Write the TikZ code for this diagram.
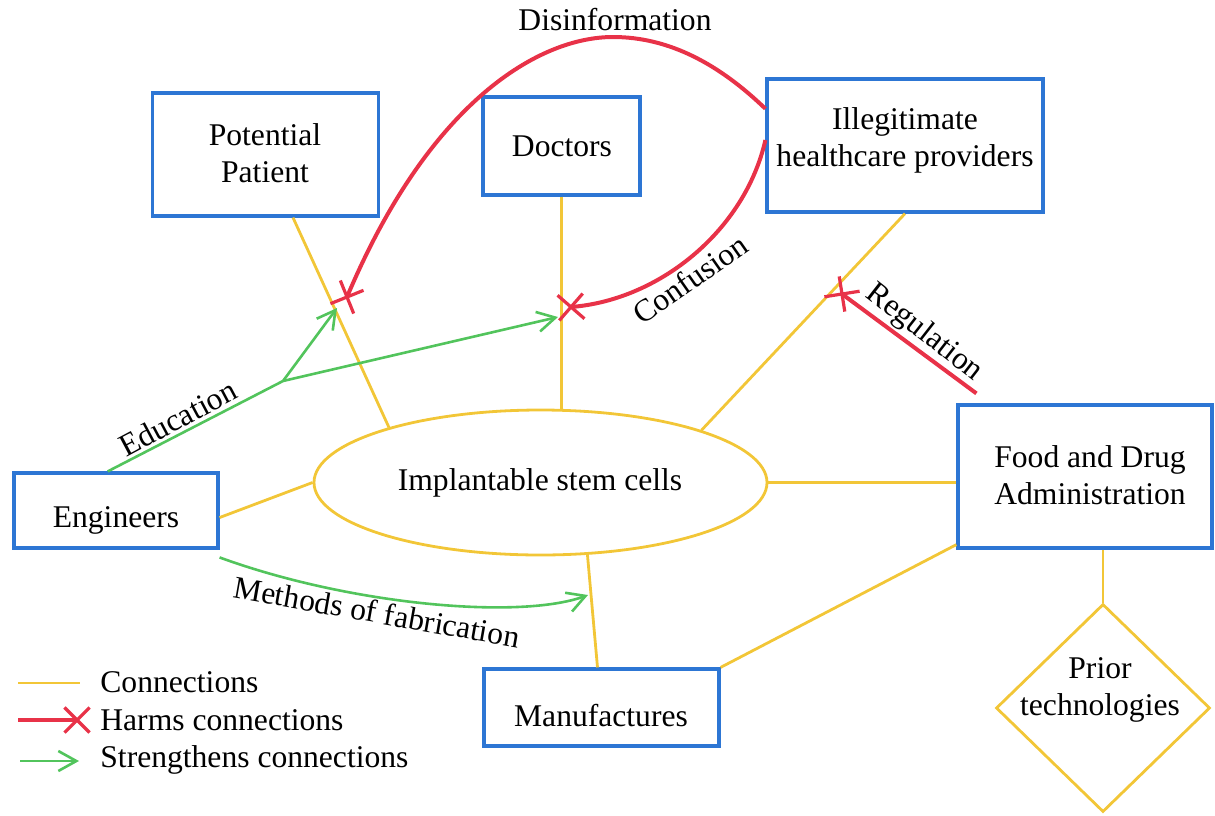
\documentclass[tikz,border=0pt]{standalone}
\usepackage{fontspec}
\setmainfont{LiberationSerif}[Extension=.ttf,UprightFont=*-Regular,BoldFont=*-Bold,ItalicFont=*-Italic,BoldItalicFont=*-BoldItalic]
\usetikzlibrary{shapes.geometric,shapes.misc,arrows.meta,calc}
\definecolor{bblue}{RGB}{45,118,212}
\definecolor{yel}{RGB}{242,198,55}
\definecolor{hred}{RGB}{232,50,72}
\definecolor{grn}{RGB}{82,196,92}
\begin{document}
\begin{tikzpicture}[x=0.5pt,y=-0.5pt,
  every node/.style={font=\rmfamily\fontsize{15.8}{18.5}\selectfont},
  box/.style={draw=bblue,line width=1.6pt,rectangle,inner sep=0pt},
  lbl/.style={align=center,inner sep=0pt},
  conn/.style={draw=yel,line width=1.4pt},
  harm/.style={draw=hred,line width=2pt},
  good/.style={draw=grn,line width=1.3pt,-{Straight Barb[length=9pt,width=10pt]}},
  xmark/.style={cross out,draw=hred,line width=1.6pt,minimum size=11pt,inner sep=0pt}]
\useasboundingbox (0,0) rectangle (1215,815);

% boxes
\node[box,minimum width=113pt,minimum height=61.5pt] (pp) at (265.5,154.5) {};
\node[lbl] (ppt) at (265,153) {Potential\\Patient};
\node[box,minimum width=78.5pt,minimum height=49pt] (doc) at (561.5,146) {};
\node[lbl] (doct) at (562,146) {Doctors};
\node[box,minimum width=138pt,minimum height=66.5pt] (ill) at (905,145.5) {};
\node[lbl] (illt) at (905,140) {Illegitimate\\healthcare providers};
\node[box,minimum width=102pt,minimum height=37.5pt] (eng) at (116,510.5) {};
\node[lbl] (engt) at (116,520) {Engineers};
\node[box,minimum width=127pt,minimum height=71.5pt] (fda) at (1085,476.5) {};
\node[lbl] (fdat) at (1090,475) {Food and Drug\\Administration};
\node[box,minimum width=117.5pt,minimum height=38.5pt] (man) at (601.5,707.5) {};
\node[lbl] (mant) at (601,716) {Manufactures};
\node[ellipse,draw=yel,line width=1.4pt,minimum width=226.5pt,minimum height=72.5pt,inner sep=0pt] (ell) at (540.5,482.5) {};
\node[lbl] (ellt) at (540,483) {Implantable stem cells};
\node[diamond,draw=yel,line width=1.4pt,minimum width=107pt,minimum height=104pt,inner sep=0pt] (prior) at (1103,708) {};
\node[lbl] (priort) at (1100,690) {Prior\\technologies};

% connections (yellow)
\draw[conn] ($(pp.south west)!0.62!(pp.south east)$) -- (ell.160);
\draw[conn] (doc.south) -- (doc.south |- ell.north);
\draw[conn] (ill.south) -- (ell.18);
\draw[conn] ($(eng.north east)!0.59!(eng.south east)$) -- (ell.west);
\draw[conn] (ell.east) -- (ell.east -| fda.west);
\draw[conn] (ell.303) -- ([xshift=-2pt]man.north);
\draw[conn] ($(fda.south west)+(0,-5)$) -- (man.north east);
\draw[conn] (prior.north |- fda.south) -- (prior.north);

% strengthens (green)
\coordinate (br) at (283,381);
\coordinate (ppg) at (337,308);
\coordinate (docg) at (558,317);
\draw[grn,line width=1.3pt] ($(eng.north west)!0.46!(eng.north east)$) -- (br);
\draw[good] (br) -- (ppg);
\draw[good] (br) -- (docg);
\draw[good] ($(eng.north east)!1.1!(eng.south east)$) .. controls (350,605) and (520,620) .. (588,595);

% harms (red)
\node[xmark,rotate=247] (xpp) at (347,297) {};
\node[xmark,rotate=184] (xdoc) at (571,307) {};
\node[xmark,rotate=144] (xill) at (842,294) {};
\draw[harm] ($(ill.north west)!0.23!(ill.south west)$) .. controls (720,65) and (670,37) .. (613,37) .. controls (540,37) and (430,100) .. (xpp.center);
\draw[harm] ($(ill.north west)!0.46!(ill.south west)$) .. controls (745,230) and (660,300) .. (xdoc.center);
\draw[harm] ($(fda.north west)+(20,-10)$) -- (xill.center);

% labels
\node[lbl] (dis) at (615,20) {Disinformation};
\node[lbl,rotate=35] (conf) at (690,279) {Confusion};
\node[lbl,rotate=-38] (reg) at (924,333) {Regulation};
\node[lbl,rotate=28] (edu) at (178,418) {Education};
\node[lbl,rotate=-10] (meth) at (377,612) {Methods of fabrication};

% legend
\coordinate (la1) at (18,683);
\coordinate (lb1) at (80,683);
\draw[conn] (la1) -- (lb1);
\node[lbl,anchor=west] (lt1) at (100,682) {Connections};
\coordinate (la2) at (18,720);
\node[xmark,rotate=0] (lx2) at (77,720) {};
\draw[harm] (la2) -- (lx2.center);
\node[lbl,anchor=west] (lt2) at (100,720) {Harms connections};
\coordinate (la3) at (20,761);
\coordinate (lb3) at (79,761);
\draw[good] (la3) -- (lb3);
\node[lbl,anchor=west] (lt3) at (100,760) {Strengthens connections};
\end{tikzpicture}
\end{document}
